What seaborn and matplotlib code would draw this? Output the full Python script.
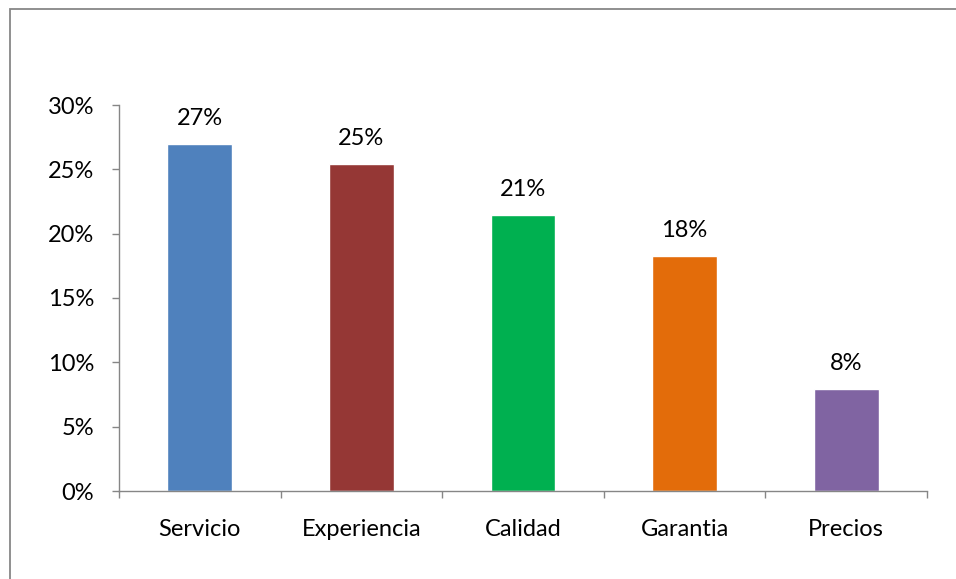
import matplotlib
matplotlib.use("Agg")
import matplotlib.pyplot as plt
import seaborn as sns
import pandas as pd
from matplotlib.ticker import PercentFormatter, FixedLocator
from matplotlib.patches import Rectangle

categories = ["Servicio", "Experiencia", "Calidad", "Garantia", "Precios"]
values = [0.27, 0.254, 0.2145, 0.1827, 0.0793]
labels = ["27%", "25%", "21%", "18%", "8%"]
colors = ["#4F81BD", "#953735", "#00B050", "#E36C0A", "#8064A2"]

sns.set_theme(style="white")
plt.rcParams["font.family"] = ["Lato", "DejaVu Sans"]

FS = 17

df = pd.DataFrame({"cat": categories, "val": values})

fig = plt.figure(figsize=(9.56, 5.79), dpi=100)
ax = fig.add_axes([119/956, 1-491/579, (927-119)/956, (491-105)/579])

sns.barplot(data=df, x="cat", y="val", hue="cat", palette=colors, width=0.4,
            legend=False, ax=ax, saturation=1)

ax.set_xlim(-0.5, 4.5)
ax.set_ylim(0, 0.30)
ax.yaxis.set_major_locator(FixedLocator([0, 0.05, 0.10, 0.15, 0.20, 0.25, 0.30]))
ax.yaxis.set_major_formatter(PercentFormatter(1.0, decimals=0))
ax.set_xlabel("")
ax.set_ylabel("")

for s in ["top", "right"]:
    ax.spines[s].set_visible(False)
for s in ["left", "bottom"]:
    ax.spines[s].set_color("#868686")
    ax.spines[s].set_linewidth(1.0)

ax.tick_params(axis="y", which="major", length=5, width=1, color="#868686",
               direction="out", pad=13, labelsize=FS, labelcolor="black", left=True)
ax.tick_params(axis="x", which="major", length=0, pad=20, labelsize=FS, labelcolor="black")
ax.set_xticks([-0.5, 0.5, 1.5, 2.5, 3.5, 4.5], minor=True)
ax.tick_params(axis="x", which="minor", length=5, width=1, color="#868686",
               direction="out", bottom=True)

for i, (v, lab) in enumerate(zip(values, labels)):
    ax.annotate(lab, xy=(i, v), xytext=(0, 13.5), textcoords="offset points",
                ha="center", va="baseline", fontsize=FS, color="black")

fig.patches.append(Rectangle((10/956, -0.1), 1.2, 1 - 9/579 + 0.1,
                             transform=fig.transFigure, fill=False,
                             edgecolor="#878787", linewidth=1.3, figure=fig))

fig.savefig("out.png", dpi=100, facecolor="white")
